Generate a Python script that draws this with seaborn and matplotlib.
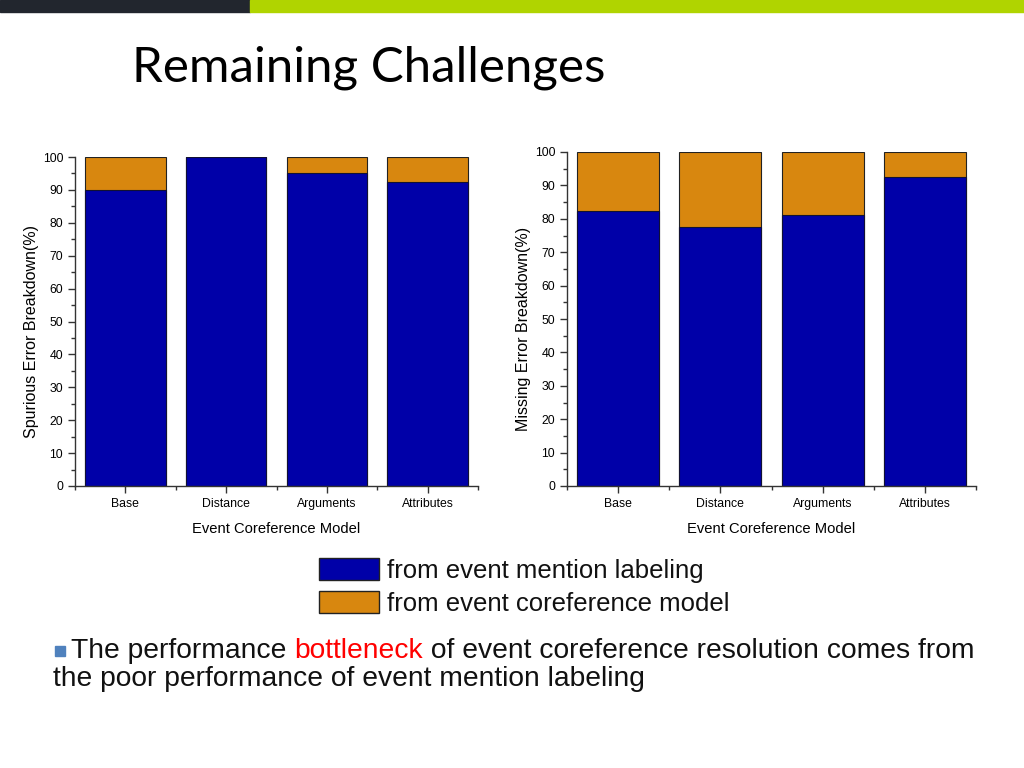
import matplotlib
matplotlib.use("Agg")
import matplotlib.pyplot as plt
import matplotlib.patches as mpatches
import seaborn as sns
import pandas as pd

# Data
models = ["Base", "Distance", "Arguments", "Attributes"]
spurious_mention = [90.0, 100.0, 95.2, 92.3]
missing_mention = [82.3, 77.5, 81.0, 92.4]
total = [100, 100, 100, 100]
series_labels = ["from event mention labeling", "from event coreference model"]

BLUE = "#0000A8"
ORANGE = "#D8870F"

sns.set_style("ticks")
plt.rcParams["font.family"] = ["Liberation Sans", "DejaVu Sans"]
plt.rcParams["text.color"] = "#111111"
plt.rcParams["axes.labelcolor"] = "black"
plt.rcParams["xtick.color"] = "#333333"
plt.rcParams["ytick.color"] = "#333333"
plt.rcParams["xtick.labelcolor"] = "black"
plt.rcParams["ytick.labelcolor"] = "black"

fig = plt.figure(figsize=(10.24, 7.68), dpi=100)

# slide decoration: top band
fig.patches.append(mpatches.Rectangle((0, 1 - 12 / 768), 250 / 1024, 12 / 768,
                                      transform=fig.transFigure, color="#22262E", zorder=0))
fig.patches.append(mpatches.Rectangle((250 / 1024, 1 - 12 / 768), 774 / 1024, 12 / 768,
                                      transform=fig.transFigure, color="#B0D400", zorder=0))

fig.text(132 / 1024, 1 - 82 / 768, "Remaining Challenges", family=["Lato", "DejaVu Sans"],
         fontsize=35.5, va="baseline", ha="left", color="black")


def draw_panel(rect, mention, ylabel):
    ax = fig.add_axes(rect)
    df = pd.DataFrame({"model": models, "mention": mention, "total": total})
    sns.barplot(data=df, x="model", y="total", order=models, color=ORANGE, saturation=1,
                width=0.8, edgecolor="#222222", linewidth=0.8, ax=ax)
    sns.barplot(data=df, x="model", y="mention", order=models, color=BLUE, saturation=1,
                width=0.8, edgecolor="#111133", linewidth=0.8, ax=ax)
    ax.set_xlim(-0.5, 3.5)
    ax.set_ylim(0, 100)
    ax.set_yticks(range(0, 101, 10))
    ax.set_yticks(range(5, 100, 10), minor=True)
    ax.set_xticks([-0.5, 0.5, 1.5, 2.5, 3.5], minor=True)
    ax.tick_params(axis="both", which="major", labelsize=8.8, length=5, width=1)
    ax.tick_params(axis="both", which="minor", length=3, width=1)
    ax.set_xlabel("Event Coreference Model", fontsize=10.6, labelpad=9)
    ax.set_ylabel(ylabel, fontsize=11.5, labelpad=3)
    ax.yaxis.label.set_y(0.47)
    sns.despine(ax=ax)
    for s in ["left", "bottom"]:
        ax.spines[s].set_color("#333333")
        ax.spines[s].set_linewidth(1)
    return ax


draw_panel([75 / 1024, 1 - 486 / 768, 403 / 1024, 329 / 768], spurious_mention,
           "Spurious Error Breakdown(%)")
draw_panel([567 / 1024, 1 - 486 / 768, 409 / 1024, 334 / 768], missing_mention,
           "Missing Error Breakdown(%)")

# legend drawn as figure-level handles
handles = [mpatches.Patch(facecolor=BLUE, edgecolor="#222222", label=series_labels[0]),
           mpatches.Patch(facecolor=ORANGE, edgecolor="#222222", label=series_labels[1])]
fig.legend(handles=handles, loc="upper left", bbox_to_anchor=(319 / 1024, 1 - 558 / 768),
           frameon=False, fontsize=18.5, handlelength=2.35, handleheight=0.95,
           handletextpad=0.3, labelspacing=0.3, borderaxespad=0, borderpad=0)

# bullet sentence with the red word
fs = 20.35
fig.patches.append(mpatches.Rectangle((55 / 1024, 1 - 656 / 768), 10 / 1024, 10 / 768,
                                      transform=fig.transFigure, color="#4F81BD"))
t1 = fig.text(71 / 1024, 1 - 658 / 768, "The performance ", fontsize=fs, va="baseline")
t2 = fig.text(0, 0, "bottleneck", fontsize=fs, color="#FF0000", va="baseline")
t3 = fig.text(0, 0, " of event coreference resolution comes from", fontsize=fs, va="baseline")
fig.text(53 / 1024, 1 - 686 / 768, "the poor performance of event mention labeling",
         fontsize=fs, va="baseline")

fig.canvas.draw()
r = fig.canvas.get_renderer()
x = t1.get_window_extent(r).x1
t2.set_position((x / fig.bbox.width, 1 - 658 / 768))
fig.canvas.draw()
x = t2.get_window_extent(r).x1
t3.set_position((x / fig.bbox.width, 1 - 658 / 768))

fig.savefig("out.png", dpi=100)
